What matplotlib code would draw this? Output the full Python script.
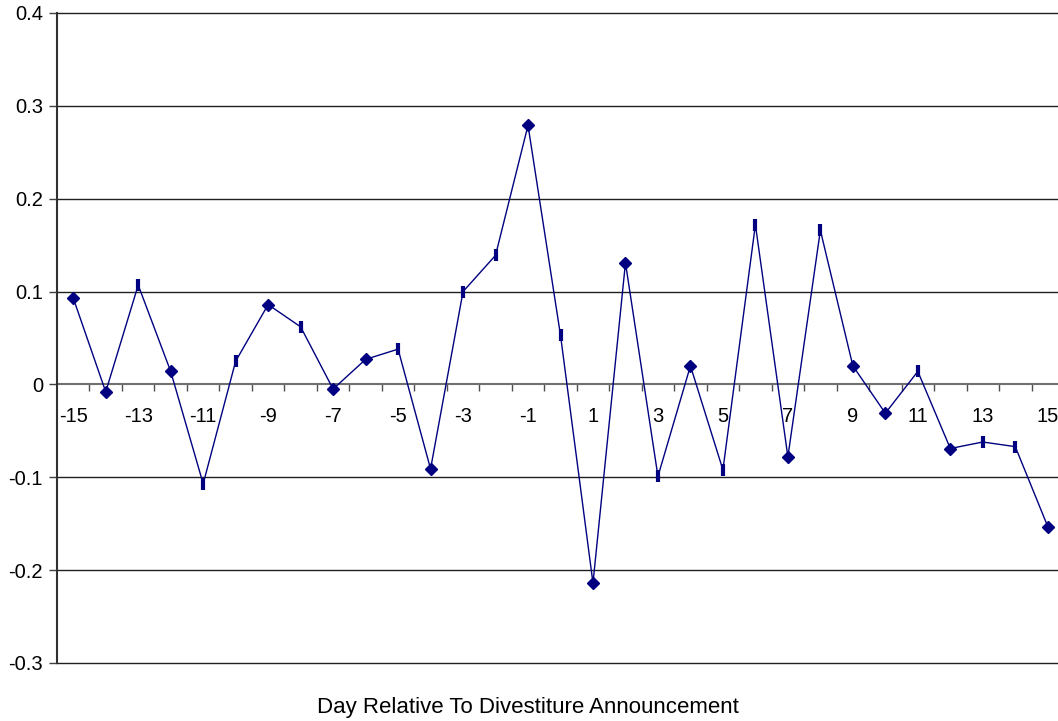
import numpy as np
import matplotlib.pyplot as plt
from matplotlib.ticker import FixedLocator, NullFormatter

plt.rcParams['font.family'] = ['Liberation Sans', 'DejaVu Sans']

# abnormal returns around the announcement day
days = list(range(-15, 16))
returns = [0.093, -0.008, 0.107, 0.014, -0.107, 0.025, 0.086, 0.062, -0.005, 0.027,
           0.038, -0.091, 0.100, 0.139, 0.279, 0.053, -0.214, 0.131, -0.099, 0.020,
           -0.092, 0.172, -0.078, 0.166, 0.020, -0.031, 0.014, -0.069, -0.062, -0.067,
           -0.153]
# days whose markers render as narrow bars
bar_days = [-13, -11, -10, -8, -5, -3, -2, 0, 3, 5, 6, 8, 11, 13, 14]

y_ticks = [-0.3, -0.2, -0.1, 0, 0.1, 0.2, 0.3, 0.4]
y_labels = ['-0.3', '-0.2', '-0.1', '0', '0.1', '0.2', '0.3', '0.4']
x_labels = [str(d) for d in days[::2]]

navy = '#000080'

fig = plt.figure(figsize=(10.58, 7.21), dpi=100)
ax = fig.add_axes([57 / 1058, 1 - 663 / 721, (1064 - 57) / 1058, 650 / 721])

pos = np.arange(len(days))
vals = np.array(returns)
ax.plot(pos, vals, color=navy, lw=1.0, zorder=3)

is_bar = np.array([d in bar_days for d in days])
ax.plot(pos[~is_bar], vals[~is_bar], ls='none', marker='D', ms=6.5,
        color=navy, zorder=4)
ax.plot(pos[is_bar], vals[is_bar], ls='none', marker='|', ms=9, mew=3,
        color=navy, zorder=4)

ax.set_xlim(-0.5, len(days) - 0.5)
ax.set_ylim(-0.3, 0.4)

# horizontal gridlines, drawn unclipped so the edge ones show in full
ax.set_yticks(y_ticks)
ax.set_yticklabels(y_labels)
for yv in y_ticks:
    if yv != 0:
        ax.axhline(yv, color='#202020', lw=1.0, zorder=1, clip_on=False)
ax.tick_params(axis='y', length=6, width=1, color='#404040', labelsize=14.5,
               pad=4)

# category axis sitting on zero, ticks between categories
ax.spines['bottom'].set_position(('data', 0))
ax.spines['bottom'].set_color('#707070')
ax.spines['bottom'].set_linewidth(1.5)
ax.spines['bottom'].set_zorder(2)
ax.spines['top'].set_visible(False)
ax.spines['right'].set_visible(False)
ax.spines['left'].set_color('#303030')
ax.spines['left'].set_linewidth(1.5)
ax.set_xticks(pos[::2])
ax.set_xticklabels(x_labels)
ax.xaxis.set_minor_locator(FixedLocator(np.arange(0.5, len(days) - 1, 1.0)))
ax.xaxis.set_minor_formatter(NullFormatter())
ax.tick_params(axis='x', which='major', length=0, labelsize=14.5, pad=16)
ax.tick_params(axis='x', which='minor', length=5, width=1, color='#505050')

fig.text(528 / 1058, 1 - 708 / 721, 'Day Relative To Divestiture Announcement',
         ha='center', va='center', fontsize=16)

fig.savefig('out.png', dpi=100)
